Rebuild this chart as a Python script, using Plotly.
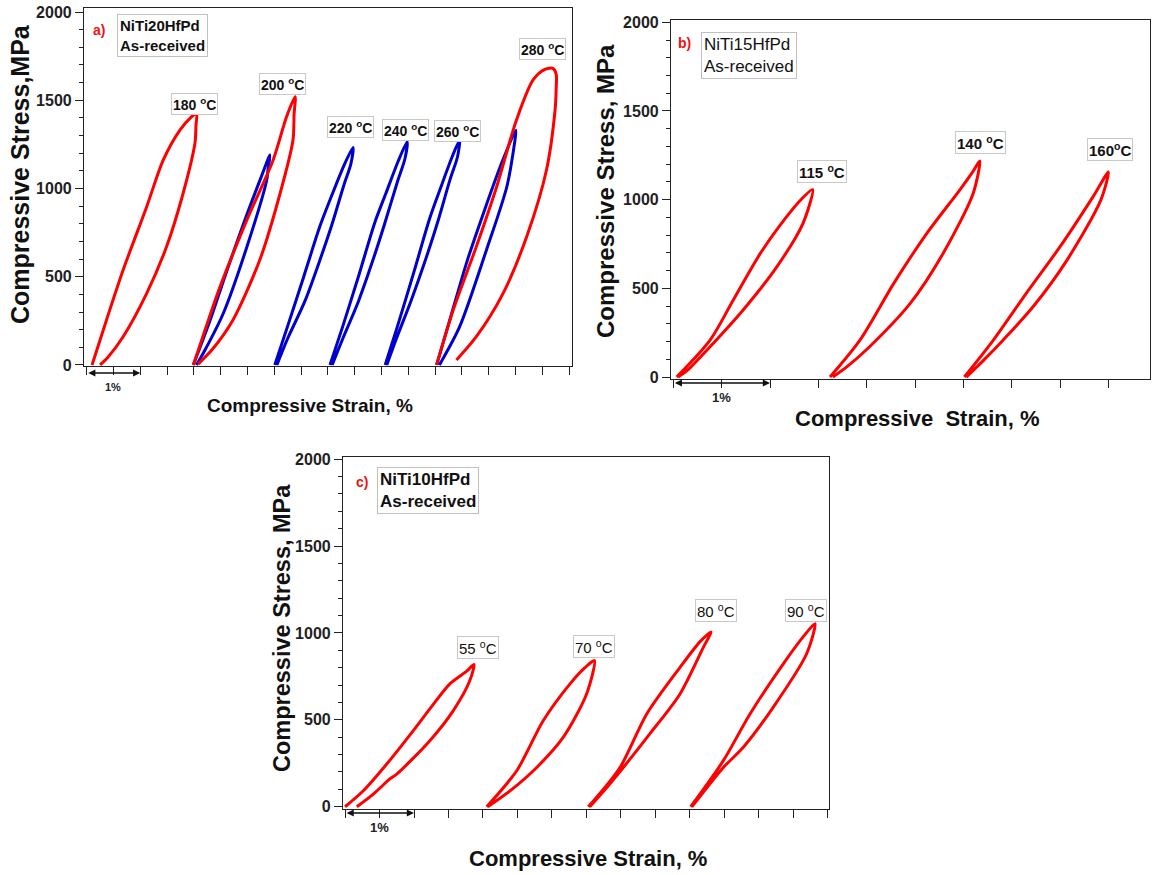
import plotly.graph_objects as go

RED = "#ff0000"
BLUE = "#0000cc"
FONT = "Arial, Liberation Sans, sans-serif"

# ---------------- Panel a: NiTi20HfPd (strain %, stress MPa) ----------------
a180_x = [0.10, 0.37, 0.68, 1.12, 1.43, 1.74, 1.95, 2.05, 2.04, 2.02, 1.80, 1.49, 1.12, 0.68, 0.40, 0.25]
a180_y = [0, 255, 538, 897, 1162, 1331, 1405, 1426, 1360, 1256, 973, 670, 406, 160, 45, 0]

a200r_x = [1.99, 2.20, 2.49, 2.99, 3.48, 3.73, 3.89, 3.87, 3.85, 3.61, 3.23, 2.73, 2.35, 2.08]
a200r_y = [0, 190, 444, 822, 1162, 1407, 1520, 1420, 1275, 973, 595, 255, 90, 5]

a200b_x = [1.99, 2.30, 2.60, 2.95, 3.25, 3.42, 3.38, 3.36, 2.99, 2.55, 2.20, 2.05]
a200b_y = [0, 250, 520, 820, 1060, 1190, 1100, 1048, 670, 293, 80, 0]

a220_x = [3.51, 3.75, 4.05, 4.35, 4.54, 4.80, 4.97, 4.93, 4.80, 4.56, 4.37, 4.07, 3.75, 3.55]
a220_y = [0, 220, 500, 784, 935, 1130, 1233, 1140, 1020, 780, 610, 360, 150, 0]

a240_x = [4.54, 4.78, 5.08, 5.38, 5.58, 5.82, 5.98, 5.94, 5.80, 5.56, 5.37, 5.07, 4.78, 4.58]
a240_y = [0, 220, 510, 810, 970, 1160, 1265, 1170, 1040, 800, 620, 360, 150, 0]

a260_x = [5.57, 5.80, 6.10, 6.40, 6.60, 6.82, 6.96, 6.92, 6.78, 6.55, 6.36, 6.06, 5.78, 5.60]
a260_y = [0, 220, 520, 830, 1000, 1180, 1275, 1180, 1050, 810, 630, 370, 150, 0]

a280b_x = [6.53, 6.80, 7.10, 7.45, 7.75, 8.01, 7.98, 7.84, 7.46, 6.96, 6.62, 6.58]
a280b_y = [0, 280, 590, 900, 1150, 1331, 1250, 1010, 652, 217, 20, 0]

a280r_x = [6.53, 6.84, 7.27, 7.65, 8.02, 8.33, 8.55, 8.70, 8.76, 8.76, 8.74, 8.58, 8.21, 7.77, 7.27, 6.90]
a280r_y = [0, 312, 670, 1010, 1388, 1615, 1675, 1681, 1650, 1560, 1445, 1105, 727, 406, 160, 28]

a_lab_text = ["180 <sup>o</sup>C", "200 <sup>o</sup>C", "220 <sup>o</sup>C", "240 <sup>o</sup>C",
              "260 <sup>o</sup>C", "280 <sup>o</sup>C"]
a_lab_x = [2.01, 3.66, 4.93, 5.94, 6.92, 8.51]
a_lab_y = [1480, 1592, 1349, 1332, 1326, 1790]

# ---------------- Panel b: NiTi15HfPd ----------------
b115_x = [0.035, 0.38, 0.62, 0.90, 1.17, 1.32, 1.44, 1.34, 1.07, 0.72, 0.38, 0.15, 0.05]
b115_y = [0, 208, 434, 697, 903, 1000, 1057, 865, 621, 377, 171, 40, 0]

b140_x = [1.62, 1.93, 2.28, 2.62, 2.96, 3.10, 3.17, 3.10, 2.79, 2.45, 2.03, 1.80, 1.65]
b140_y = [0, 208, 528, 809, 1053, 1160, 1218, 1034, 697, 415, 171, 60, 0]

b160_x = [3.01, 3.31, 3.65, 4.00, 4.34, 4.50, 4.42, 4.07, 3.72, 3.41, 3.20, 3.03]
b160_y = [0, 208, 472, 735, 1016, 1156, 996, 658, 396, 208, 90, 0]

b_lab_text = ["115 <sup>o</sup>C", "140 <sup>o</sup>C", "160<sup>o</sup>C"]
b_lab_x = [1.54, 3.18, 4.52]
b_lab_y = [1158, 1325, 1283]

# ---------------- Panel c: NiTi10HfPd ----------------
c55_x = [0.0, 0.265, 0.605, 0.99, 1.23, 1.52, 1.765, 1.87, 1.81, 1.57, 1.23, 0.75, 0.65, 0.41, 0.17]
c55_y = [0, 92, 246, 438, 563, 707, 780, 818, 726, 553, 380, 188, 160, 73, 0]

c70_x = [2.055, 2.49, 2.876, 3.263, 3.48, 3.616, 3.505, 3.166, 2.78, 2.42, 2.07]
c70_y = [0, 207, 496, 707, 800, 841, 650, 400, 226, 100, 0]

c80_x = [3.529, 3.988, 4.376, 4.859, 5.15, 5.308, 5.197, 4.859, 4.42, 4.036, 3.73, 3.55]
c80_y = [0, 226, 534, 802, 950, 1005, 917, 649, 419, 226, 80, 0]

c90_x = [5.014, 5.487, 5.874, 6.357, 6.65, 6.817, 6.696, 6.21, 5.777, 5.487, 5.19, 5.03]
c90_y = [0, 265, 534, 822, 980, 1053, 880, 572, 342, 226, 80, 0]

c_lab_text = ["55 <sup>o</sup>C", "70 <sup>o</sup>C", "80 <sup>o</sup>C", "90 <sup>o</sup>C"]
c_lab_x = [1.93, 3.61, 5.38, 6.69]
c_lab_y = [916, 922, 1130, 1130]

# ---------------- figure ----------------
fig = go.Figure()

def add_loop(xs, ys, color, xa, ya):
    fig.add_trace(go.Scatter(x=xs, y=ys, mode="lines", xaxis=xa, yaxis=ya,
                             line=dict(color=color, width=3, shape="spline", smoothing=0.8),
                             hoverinfo="skip", showlegend=False))

for xs, ys, col in [(a180_x, a180_y, RED), (a200b_x, a200b_y, BLUE), (a200r_x, a200r_y, RED),
                    (a220_x, a220_y, BLUE), (a240_x, a240_y, BLUE), (a260_x, a260_y, BLUE),
                    (a280b_x, a280b_y, BLUE), (a280r_x, a280r_y, RED)]:
    add_loop(xs, ys, col, "x", "y")
for xs, ys in [(b115_x, b115_y), (b140_x, b140_y), (b160_x, b160_y)]:
    add_loop(xs, ys, RED, "x2", "y2")
for xs, ys in [(c55_x, c55_y), (c70_x, c70_y), (c80_x, c80_y), (c90_x, c90_y)]:
    add_loop(xs, ys, RED, "x3", "y3")

W, H = 1160, 875
LINE = "#222222"

def xax(dom, rng, anchor):
    return dict(domain=dom, range=rng, anchor=anchor, tickmode="linear", tick0=0, dtick=0.5,
                ticks="outside", ticklen=8, tickcolor=LINE, showticklabels=False,
                showline=True, linecolor=LINE, linewidth=1.2, mirror=True,
                showgrid=False, zeroline=False, automargin=False)

def yax(dom, rng, anchor):
    return dict(domain=dom, range=rng, anchor=anchor, tickmode="linear", tick0=0, dtick=500,
                ticks="outside", ticklen=8, tickcolor=LINE,
                minor=dict(ticks="outside", ticklen=4, dtick=100, tick0=0, tickcolor=LINE, showgrid=False),
                tickfont=dict(family=FONT, size=16, color="#222", weight="bold"),
                showline=True, linecolor=LINE, linewidth=1.2, mirror=True,
                showgrid=False, zeroline=False, automargin=False)

fig.update_layout(
    width=W, height=H, margin=dict(l=0, r=0, t=0, b=0, pad=0, autoexpand=False),
    paper_bgcolor="white", plot_bgcolor="white", showlegend=False,
    xaxis=xax([84 / W, 572 / W], [-0.05, 9.056], "y"),
    yaxis=yax([1 - 366 / H, 1 - 8 / H], [-6, 2023], "x"),
    xaxis2=xax([671 / W, 1150 / W], [-0.024, 4.93], "y2"),
    yaxis2=yax([1 - 379 / H, 1 - 20 / H], [-11, 2013], "x2"),
    xaxis3=xax([343 / W, 829 / W], [-0.03, 7.02], "y3"),
    yaxis3=yax([1 - 809 / H, 1 - 457 / H], [-13, 2012], "x3"),
)

ann = []

def temp_labels(texts, xs, ys, xr, yr, size, weight):
    for t, x, y in zip(texts, xs, ys):
        ann.append(dict(text=t, x=x, y=y, xref=xr, yref=yr, showarrow=False,
                        xanchor="center", yanchor="middle",
                        font=dict(family=FONT, size=size, color="#111", weight=weight),
                        bgcolor="white", bordercolor="#c8c8c8", borderwidth=1, borderpad=1))

temp_labels(a_lab_text, a_lab_x, a_lab_y, "x", "y", 14, "bold")
temp_labels(b_lab_text, b_lab_x, b_lab_y, "x2", "y2", 15, "bold")
temp_labels(c_lab_text, c_lab_x, c_lab_y, "x3", "y3", 15, "normal")

# sample boxes
def sample_box(letter, lx, ly, name, bx, by, size, weight):
    ann.append(dict(text=letter, x=lx / W, y=1 - ly / H, xref="paper", yref="paper",
                    xanchor="center", yanchor="middle",
                    showarrow=False, font=dict(family=FONT, size=14, color="#ee1111", weight="bold")))
    ann.append(dict(text=name + "<br>As-received", x=bx / W, y=1 - by / H, xref="paper", yref="paper",
                    xanchor="left", yanchor="top", align="left", showarrow=False,
                    font=dict(family=FONT, size=size, color="#111", weight=weight),
                    bgcolor="white", bordercolor="#c0c0c0", borderwidth=1, borderpad=2))

sample_box("a)", 99, 30, "NiTi20HfPd", 117, 14, 15, "bold")
sample_box("b)", 684, 43, "NiTi15HfPd", 701, 32, 17, "normal")
sample_box("c)", 362, 482, "NiTi10HfPd", 377, 467, 17, "bold")

# axis titles
def axis_titles(yx, yy, ysize, xx, xy, xsize, ytext, xtext):
    ann.append(dict(text=ytext, x=yx / W, y=1 - yy / H, xref="paper", yref="paper", textangle=-90,
                    xanchor="center", yanchor="middle",
                    showarrow=False, font=dict(family=FONT, size=ysize, color="#111", weight="bold")))
    ann.append(dict(text=xtext, x=xx / W, y=1 - xy / H, xref="paper", yref="paper",
                    xanchor="center", yanchor="middle",
                    showarrow=False, font=dict(family=FONT, size=xsize, color="#111", weight="bold")))

axis_titles(20, 174, 25, 310, 405, 19, "Compressive Stress,MPa", "Compressive Strain, %")
axis_titles(605, 191, 24, 917, 418, 22, "Compressive Stress, MPa", "Compressive  Strain, %")
axis_titles(282, 628, 23.5, 588, 858, 22, "Compressive Stress, MPa", "Compressive Strain, %")

# 1% scale bars
def scale_bar(xr, bar_y, lab_y, lab_size):
    ann.append(dict(text="", x=1, y=1 - bar_y / H, xref=xr, yref="paper", axref=xr, ayref="pixel",
                    ax=0, ay=0, showarrow=True, arrowhead=2, arrowside="end+start", arrowsize=0.9,
                    arrowwidth=1.6, arrowcolor="#111", standoff=0, startstandoff=0))
    ann.append(dict(text="1%", x=0.5, y=1 - lab_y / H, xref=xr, yref="paper", showarrow=False,
                    xanchor="center", yanchor="middle",
                    font=dict(family=FONT, size=lab_size, color="#222", weight="bold")))

scale_bar("x", 373, 387, 11)
scale_bar("x2", 383, 397, 13)
scale_bar("x3", 813, 827, 13)

fig.update_layout(annotations=ann)
fig.write_html("out.html", config={"displayModeBar": False},
               post_script="document.body.style.margin='0';document.body.style.padding='0';")
